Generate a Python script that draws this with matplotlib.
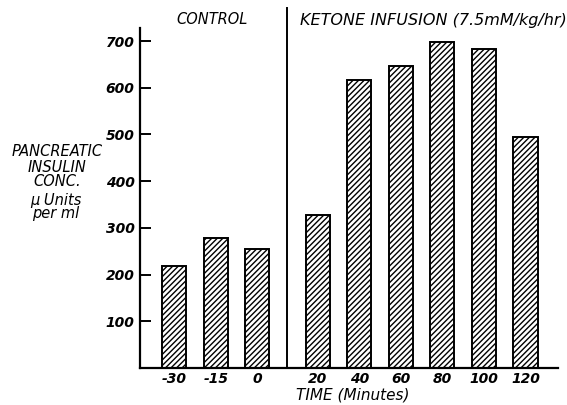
import numpy as np
import matplotlib.pyplot as plt

plt.rcParams['hatch.linewidth'] = 1.0

# data
control_labels = ['-30', '-15', '0']
control_values = [218, 279, 254]
ketone_labels = ['20', '40', '60', '80', '100', '120']
ketone_values = [327, 616, 646, 697, 684, 494]

# positions: control group, then a wider gap before the infusion group
x_control = np.arange(len(control_labels))
x_ketone = np.arange(len(ketone_labels)) + 3.45
x_divider = 2.72

fig = plt.figure(figsize=(5.67, 4.05), dpi=100)
ax = fig.add_axes([0.247, 0.091, 0.737, 0.84])

bar_kw = dict(width=0.58, color='white', edgecolor='black', linewidth=1.4, hatch='//////')
ax.bar(x_control, control_values, **bar_kw)
ax.bar(x_ketone, ketone_values, **bar_kw)

# divider between control and infusion periods
ax.plot([x_divider, x_divider], [0, 770], color='black', lw=1.4, clip_on=False)

ax.set_xlim(-0.82, 9.23)
ax.set_ylim(0, 728)
ax.set_xticks(list(x_control) + list(x_ketone))
ax.set_xticklabels(control_labels + ketone_labels, fontstyle='italic', fontsize=10, fontweight='bold')
ax.tick_params(axis='x', length=0, pad=3)
ax.set_yticks([100, 200, 300, 400, 500, 600, 700])
ax.set_yticklabels(['100', '200', '300', '400', '500', '600', '700'],
                   fontstyle='italic', fontsize=10, fontweight='bold')
ax.tick_params(axis='y', direction='in', length=8, width=1.4, pad=4)

for s in ['top', 'right']:
    ax.spines[s].set_visible(False)
for s in ['left', 'bottom']:
    ax.spines[s].set_linewidth(1.6)

fig.text(212 / 567, 1 - 20 / 405, 'CONTROL', ha='center', va='center',
         fontstyle='italic', fontsize=10.5)
fig.text(300 / 567, 1 - 20 / 405, 'KETONE INFUSION (7.5mM/kg/hr)', ha='left', va='center',
         fontstyle='italic', fontsize=11.5)
fig.text(57 / 567, 1 - 167 / 405, 'PANCREATIC\nINSULIN\nCONC.', ha='center', va='center',
         fontstyle='italic', fontsize=10.5, linespacing=1.0)
fig.text(56 / 567, 1 - 207 / 405, '\u03bc Units\nper ml', ha='center', va='center',
         fontstyle='italic', fontsize=10.5, linespacing=0.9)
fig.text(353 / 567, 1 - 395 / 405, 'TIME (Minutes)', ha='center', va='center',
         fontstyle='italic', fontsize=11)

fig.savefig('out.png', dpi=100)
